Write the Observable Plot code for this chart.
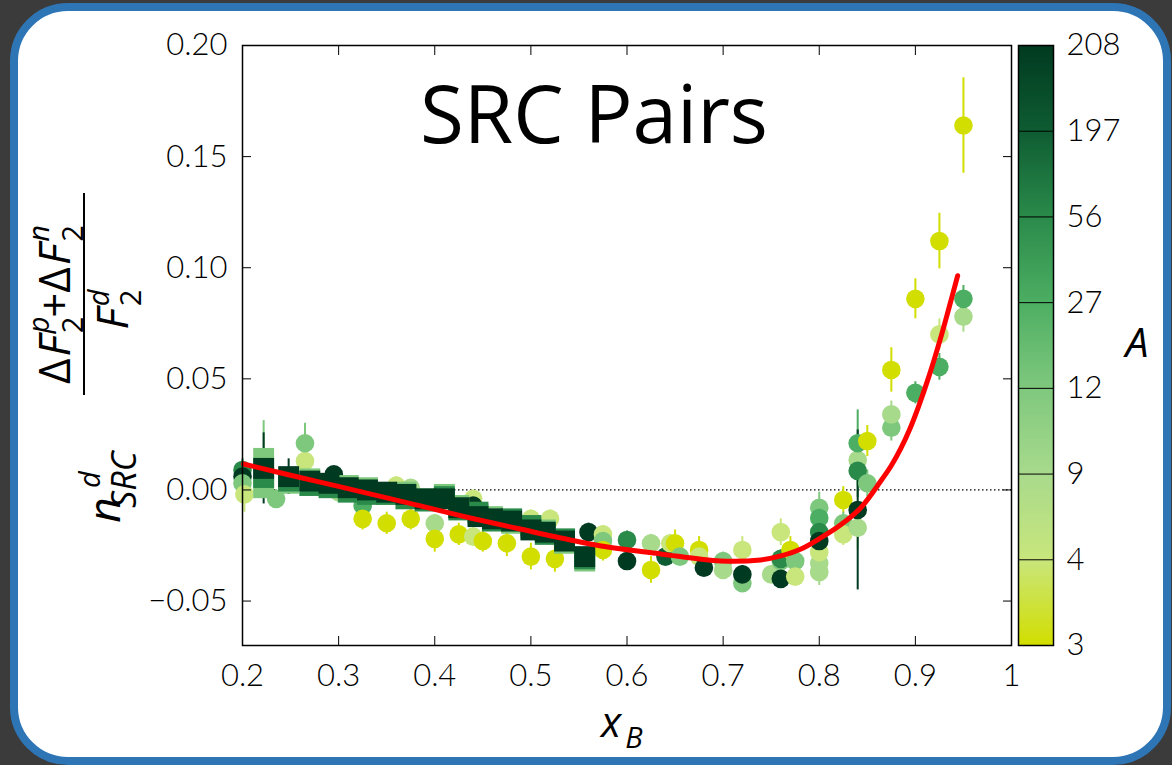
<!DOCTYPE html>
<html><head><meta charset="utf-8">
<script src="https://cdn.jsdelivr.net/npm/d3@7"></script>
<script src="https://cdn.jsdelivr.net/npm/@observablehq/plot@0.6"></script>
<style>
html,body{margin:0;padding:0;background:#3b3b3b;width:1172px;height:765px;overflow:hidden;}
#border{position:absolute;left:10px;top:3px;width:1161px;height:762px;box-sizing:border-box;border:8px solid #2e75b6;border-radius:58px;background:#fff;}
#chart,#cbar{position:absolute;left:0;top:0;}
svg{overflow:visible}
</style></head><body>
<div id="border"></div>
<div id="chart"></div>
<div id="cbar"></div>
<script>
// ---------- data ----------
const xTicks = [0.2, 0.3, 0.4, 0.5, 0.6, 0.7, 0.8, 0.9, 1.0];
const xTickLabels = ["0.2", "0.3", "0.4", "0.5", "0.6", "0.7", "0.8", "0.9", "1"];
const yTicks = [-0.05, 0, 0.05, 0.10, 0.15, 0.20];
const yTickLabels = ["\u22120.05", "0.00", "0.05", "0.10", "0.15", "0.20"];
const nucleusA = [3, 4, 9, 12, 27, 56, 197, 208];
const colorStops = ["#d2de00", "#c8e67c", "#a8da8c", "#7ec87e", "#4cae62", "#2a8a4a", "#0e5c32", "#003a20"];

// circle data points
const circX = [0.200, 0.200, 0.200, 0.202, 0.235, 0.265, 0.265, 0.295, 0.300, 0.325,
  0.325, 0.350, 0.360, 0.375, 0.375, 0.400, 0.400, 0.425, 0.440, 0.440,
  0.440, 0.450, 0.475, 0.500, 0.500, 0.520, 0.525, 0.560, 0.575, 0.575,
  0.575, 0.600, 0.600, 0.625, 0.625, 0.640, 0.645, 0.650, 0.655, 0.675,
  0.675, 0.680, 0.700, 0.700, 0.720, 0.720, 0.720, 0.750, 0.760, 0.760,
  0.760, 0.760, 0.770, 0.775, 0.775, 0.800, 0.800, 0.800, 0.800, 0.800,
  0.800, 0.800, 0.825, 0.825, 0.825, 0.840, 0.840, 0.840, 0.840, 0.840,
  0.850, 0.850, 0.875, 0.875, 0.875, 0.900, 0.900, 0.925, 0.925, 0.925,
  0.950, 0.950, 0.950];
const circY = [0.009, 0.006, 0.003, -0.002, -0.004, 0.013, 0.021, 0.007, -0.001, -0.007,
  -0.013, -0.015, 0.002, 0.001, -0.013, -0.015, -0.022, -0.020, -0.004, -0.007,
  -0.021, -0.023, -0.024, -0.013, -0.030, -0.013, -0.031, -0.019, -0.020, -0.023,
  -0.027, -0.0225, -0.032, -0.024, -0.036, -0.030, -0.024, -0.024, -0.030, -0.027,
  -0.030, -0.035, -0.032, -0.036, -0.027, -0.042, -0.038, -0.038, -0.019, -0.032,
  -0.031, -0.040, -0.027, -0.032, -0.039, -0.037, -0.033, -0.028, -0.008, -0.0126,
  -0.019, -0.023, -0.0045, -0.015, -0.020, -0.017, 0.0135, 0.021, 0.0086, -0.009,
  0.003, 0.022, 0.028, 0.034, 0.054, 0.0437, 0.086, 0.0554, 0.070, 0.112,
  0.078, 0.086, 0.164];
const circErr = [0.005, 0.004, 0.004, 0.008, 0.004, 0.006, 0.009, 0.003, 0.003, 0.004,
  0.005, 0.005, 0.004, 0.003, 0.005, 0.004, 0.006, 0.005, 0.003, 0.003,
  0.004, 0.005, 0.006, 0.004, 0.006, 0.004, 0.006, 0.004, 0.004, 0.004,
  0.005, 0.004, 0.004, 0.004, 0.006, 0.004, 0.004, 0.006, 0.004, 0.006,
  0.004, 0.004, 0.004, 0.004, 0.006, 0.004, 0.004, 0.004, 0.006, 0.004,
  0.004, 0.004, 0.006, 0.004, 0.004, 0.006, 0.006, 0.006, 0.007, 0.006,
  0.006, 0.006, 0.006, 0.005, 0.005, 0.010, 0.012, 0.015, 0.012, 0.036,
  0.006, 0.007, 0.006, 0.006, 0.010, 0.005, 0.009, 0.006, 0.007, 0.0125,
  0.007, 0.006, 0.0215];
const circA = [56, 208, 12, 4, 12, 4, 12, 208, 9, 27,
  3, 3, 4, 9, 3, 9, 3, 3, 4, 208,
  4, 3, 3, 4, 3, 4, 3, 208, 4, 12,
  3, 56, 208, 9, 3, 197, 4, 3, 12, 3,
  4, 208, 12, 9, 4, 12, 208, 9, 4, 12,
  56, 208, 3, 12, 4, 9, 9, 4, 12, 27,
  56, 208, 3, 12, 4, 9, 9, 27, 56, 208,
  12, 3, 12, 9, 3, 27, 3, 27, 4, 3,
  9, 27, 3];

// square data points (three overlapping series)
const sqX = [0.222, 0.222, 0.248, 0.270, 0.290, 0.310, 0.330, 0.350, 0.370, 0.390, 0.410, 0.425, 0.445, 0.460, 0.480, 0.500, 0.515, 0.535, 0.556,
  0.222, 0.248, 0.270, 0.290, 0.310, 0.330, 0.350, 0.370, 0.390, 0.410, 0.425, 0.445, 0.460, 0.480, 0.500, 0.515, 0.535, 0.556,
  0.222, 0.248, 0.270, 0.290, 0.310, 0.330, 0.350, 0.370, 0.390, 0.410, 0.425, 0.445, 0.460, 0.480, 0.500, 0.515, 0.535, 0.556];
const sqY = [0.0142, 0.001, 0.003, 0.005, 0.002, 0.002, 0.001, -0.002, -0.001, -0.004, -0.002, -0.007, -0.011, -0.012, -0.015, -0.017, -0.018, -0.024, -0.032,
  0.0056, 0.004, 0.002, 0.001, -0.001, -0.002, -0.002, -0.004, -0.005, -0.003, -0.009, -0.010, -0.014, -0.013, -0.016, -0.020, -0.022, -0.031,
  0.0097, 0.006, 0.004, 0.003, 0.001, 0.000, -0.001, -0.002, -0.004, -0.004, -0.008, -0.012, -0.013, -0.014, -0.018, -0.019, -0.023, -0.030];
const sqErr = [0.017, 0.004, 0.004, 0.003, 0.003, 0.003, 0.003, 0.003, 0.003, 0.003, 0.003, 0.003, 0.003, 0.003, 0.003, 0.003, 0.003, 0.003, 0.003,
  0.008, 0.004, 0.003, 0.003, 0.003, 0.003, 0.003, 0.003, 0.003, 0.003, 0.003, 0.003, 0.003, 0.003, 0.003, 0.003, 0.003, 0.004,
  0.016, 0.008, 0.004, 0.003, 0.003, 0.003, 0.003, 0.003, 0.003, 0.003, 0.003, 0.003, 0.003, 0.003, 0.003, 0.003, 0.003, 0.004];
const sqA = [12, 12, 12, 12, 12, 12, 12, 12, 12, 12, 12, 12, 12, 12, 12, 12, 12, 12, 12,
  56, 56, 56, 56, 56, 56, 56, 56, 56, 56, 56, 56, 56, 56, 56, 56, 56, 56,
  208, 208, 208, 208, 208, 208, 208, 208, 208, 208, 208, 208, 208, 208, 208, 208, 208, 208];

// fitted curve
const fitX = [0.201, 0.260, 0.302, 0.385, 0.437, 0.489, 0.541, 0.573, 0.635, 0.697, 0.739, 0.760, 0.781, 0.8015, 0.822, 0.843, 0.864, 0.875, 0.885, 0.894, 0.903, 0.914, 0.926, 0.935, 0.944];
const fitY = [0.0117, 0.0056, 0.0014, -0.0072, -0.0126, -0.0176, -0.0225, -0.0252, -0.0288, -0.0320, -0.0315, -0.0297, -0.0266, -0.0216, -0.0158, -0.0081, 0.0040, 0.0110, 0.0188, 0.0272, 0.0372, 0.0510, 0.0680, 0.0820, 0.0964];

// ---------- tables ----------
const circles = circX.map((x, i) => ({x, y: circY[i], e: circErr[i], A: circA[i]}));
const squares = sqX.map((x, i) => ({x, y: sqY[i], e: sqErr[i], A: sqA[i]}));
const fit = fitX.map((x, i) => ({x, y: fitY[i]}));

const fmtX = d => xTickLabels[xTicks.indexOf(d)];
const fmtY = d => yTickLabels[yTicks.indexOf(d)];
const tickStyle = {fontFamily: "Lato, sans-serif", fontSize: "31px", fontWeight: 300, color: "black", background: "transparent"};

const main = Plot.plot({
  width: 1172, height: 765,
  marginLeft: 242, marginRight: 161, marginTop: 45, marginBottom: 120,
  x: {domain: [0.2, 1.0]},
  y: {domain: [-0.07, 0.20]},
  color: {type: "ordinal", domain: nucleusA, range: colorStops},
  style: tickStyle,
  marks: [
    Plot.ruleY([0], {stroke: "black", strokeWidth: 1.2, strokeDasharray: "1.5,2.5"}),
    Plot.ruleX(circles, {x: "x", y1: d => d.y - d.e, y2: d => d.y + d.e, stroke: "A", strokeWidth: 2}),
    Plot.dot(circles, {x: "x", y: "y", fill: "A", r: 9.3}),
    Plot.ruleX(squares, {x: "x", y1: d => d.y - d.e, y2: d => d.y + d.e, stroke: "A", strokeWidth: 2}),
    Plot.dot(squares, {x: "x", y: "y", fill: "A", symbol: "square", r: 11.8}),
    Plot.line(fit, {x: "x", y: "y", stroke: "#ff0000", strokeWidth: 5, curve: "catmull-rom"}),
    Plot.frame({stroke: "black", strokeWidth: 1.5}),
    Plot.axisX({anchor: "bottom", ticks: xTicks, tickFormat: fmtX, tickSize: 0, tickPadding: 18, label: null}),
    Plot.axisX({anchor: "bottom", ticks: xTicks, tickFormat: () => "", tickSize: -9, label: null}),
    Plot.axisX({anchor: "top", ticks: xTicks, tickFormat: () => "", tickSize: -9, label: null}),
    Plot.axisY({anchor: "left", ticks: yTicks, tickFormat: fmtY, tickSize: 0, tickPadding: 15, label: null}),
    Plot.axisY({anchor: "left", ticks: yTicks, tickFormat: () => "", tickSize: -9, label: null}),
    Plot.axisY({anchor: "right", ticks: yTicks, tickFormat: () => "", tickSize: -9, label: null})
  ]
});
document.getElementById("chart").append(main);

// colour bar
const strips = d3.range(0, 7, 0.02).map(t => ({y1: t, y2: Math.min(7, t + 0.03), t: t + 0.01}));
const cbar = Plot.plot({
  width: 1172, height: 765,
  marginLeft: 1018, marginRight: 119, marginTop: 45, marginBottom: 120,
  x: {domain: [0, 1], axis: null},
  y: {domain: [0, 7]},
  color: {type: "linear", domain: d3.range(8), range: colorStops},
  style: tickStyle,
  marks: [
    Plot.rect(strips, {x1: () => 0, x2: () => 1, y1: "y1", y2: "y2", fill: "t", shapeRendering: "crispEdges"}),
    Plot.ruleY([1, 2, 3, 4, 5, 6], {stroke: "black", strokeWidth: 1}),
    Plot.frame({stroke: "black", strokeWidth: 1.5}),
    Plot.axisY({anchor: "right", ticks: d3.range(8), tickFormat: i => String(nucleusA[i]), tickSize: 0, tickPadding: 13, label: null})
  ]
});
document.getElementById("cbar").append(cbar);

// ---------- text labels ----------
const svg = d3.select(main);

// title
svg.append("text").attr("x", 594).attr("y", 143).attr("text-anchor", "middle")
  .attr("font-family", "Open Sans, sans-serif").attr("font-weight", 400).attr("font-size", 80).attr("fill", "black").text("SRC Pairs");

// A label
d3.select(cbar).append("text").attr("x", 1137).attr("y", 357)
  .attr("font-family", "Open Sans, sans-serif").attr("font-weight", 400).attr("font-style", "italic").attr("font-size", 41).attr("fill", "black").text("A");

// x label
const xl = svg.append("g").attr("font-family", "Open Sans, sans-serif").attr("font-weight", 400).attr("fill", "black");
xl.append("text").attr("x", 611).attr("y", 737).attr("font-size", 42).attr("font-style", "italic").text("x");
xl.append("text").attr("x", 634).attr("y", 748).attr("font-size", 29).attr("font-style", "italic").text("B");

// y label (rotated math)
function layout(g, items, v0) {
  let u = 0;
  for (const it of items) {
    const parts = it.stack || [it];
    let w = 0;
    for (const s of parts) {
      const t = g.append("text").attr("x", u).attr("y", v0 + (s.dv || 0))
        .attr("font-size", s.size).attr("font-style", s.it ? "italic" : "normal").text(s.t);
      w = Math.max(w, t.node().getComputedTextLength());
    }
    u += w + (it.pad || 0);
  }
  return u;
}
const big = 44, small = 29;
const yl = svg.append("g").attr("transform", "rotate(-90)")
  .attr("font-family", "Open Sans, sans-serif").attr("font-weight", 400).attr("fill", "black");
// numerator
const num = yl.append("g");
const wNum = layout(num, [
  {t: "\u0394", size: big},
  {t: "F", size: big, it: true},
  {stack: [{t: "2", size: small, dv: 13}, {t: "p", size: small, it: true, dv: -21}], pad: 3},
  {t: "+", size: big},
  {t: "\u0394", size: big},
  {t: "F", size: big, it: true},
  {stack: [{t: "2", size: small, dv: 13}, {t: "n", size: small, it: true, dv: -21}]}
], 70);
num.attr("transform", `translate(${-294 - wNum / 2},0)`);
// denominator
const den = yl.append("g");
const wDen = layout(den, [
  {t: "F", size: big, it: true},
  {stack: [{t: "2", size: small, dv: 13}, {t: "d", size: small, it: true, dv: -19}]}
], 128);
den.attr("transform", `translate(${-300 - wDen / 2},0)`);
// fraction bar
svg.append("line").attr("x1", 84).attr("x2", 84).attr("y1", 193).attr("y2", 395)
  .attr("stroke", "black").attr("stroke-width", 2);
// n^d_SRC
const nn = yl.append("g");
layout(nn, [
  {t: "n", size: big, it: true, pad: 5},
  {stack: [{t: "SRC", size: 34, it: true, dv: 16}, {t: "d", size: small, it: true, dv: -20}]}
], 120);
nn.attr("transform", `translate(-510,0)`);
</script>
</body></html>
